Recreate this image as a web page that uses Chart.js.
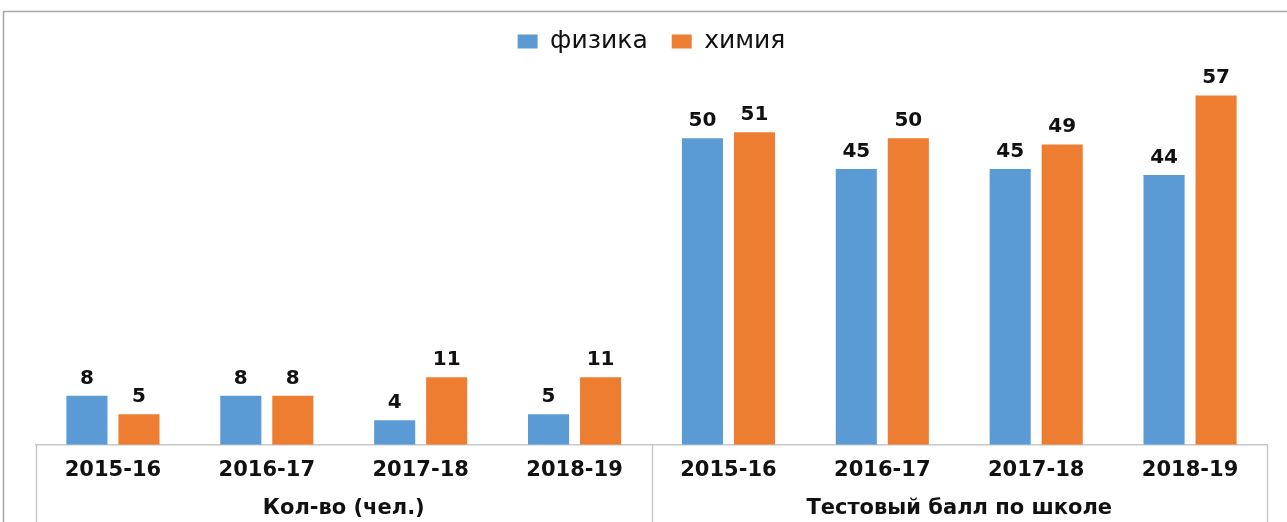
<!DOCTYPE html>
<html lang="ru">
<head>
<meta charset="utf-8">
<title>физика / химия</title>
<script src="https://cdn.jsdelivr.net/npm/chart.js@4/dist/chart.umd.min.js"></script>
<style>
  html, body { margin: 0; padding: 0; background: #fff; }
  #holder { width: 1287px; height: 522px; position: relative; }
</style>
</head>
<body>
<div id="holder"><canvas id="chart"></canvas></div>
<script>
// data
const years = ['2015-16', '2016-17', '2017-18', '2018-19', '2015-16', '2016-17', '2017-18', '2018-19'];
const groups = ['Кол-во (чел.)', 'Тестовый балл по школе'];
const groupSize = 4;
const physics = [8, 8, 4, 5, 50, 45, 45, 44];
const chemistry = [5, 8, 11, 11, 51, 50, 49, 57];

const FONT = "'DejaVu Sans', Verdana, sans-serif";
const lineColor = '#c8c8c8';

// outer frame like the office chart box
const framePlugin = {
  id: 'frame',
  beforeDraw(chart) {
    const ctx = chart.ctx;
    ctx.save();
    ctx.strokeStyle = '#a6a6a6';
    ctx.lineWidth = 1.5;
    ctx.beginPath();
    ctx.moveTo(3.5, chart.height);
    ctx.lineTo(3.5, 11.5);
    ctx.lineTo(chart.width, 11.5);
    ctx.stroke();
    ctx.restore();
  }
};

// push the plot down a bit below the legend
const legendGap = {
  id: 'legendGap',
  beforeInit(chart) {
    const fit = chart.legend.fit;
    chart.legend.fit = function () {
      fit.bind(chart.legend)();
      this.height += 13;
    };
  }
};

// values on top of the bars
const valueLabels = {
  id: 'valueLabels',
  afterDatasetsDraw(chart) {
    const ctx = chart.ctx;
    ctx.save();
    ctx.font = 'bold 20px ' + FONT;
    ctx.fillStyle = '#111';
    ctx.textAlign = 'center';
    ctx.textBaseline = 'alphabetic';
    chart.data.datasets.forEach((ds, i) => {
      chart.getDatasetMeta(i).data.forEach((bar, j) => {
        ctx.fillText(String(ds.data[j]), bar.x, bar.y - 12);
      });
    });
    ctx.restore();
  }
};

// second level of the category axis: group names and dividers
const groupAxis = {
  id: 'groupAxis',
  afterDraw(chart) {
    const x = chart.scales.x;
    const ctx = chart.ctx;
    const top = x.top;
    const bottom = chart.height;
    const step = (x.right - x.left) / years.length;
    ctx.save();
    ctx.strokeStyle = lineColor;
    ctx.lineWidth = 1.5;
    for (let g = 0; g <= groups.length; g++) {
      const px = Math.round(x.left + step * groupSize * g) + 0.5;
      ctx.beginPath();
      ctx.moveTo(px, top);
      ctx.lineTo(px, bottom);
      ctx.stroke();
    }
    ctx.font = 'bold 21px ' + FONT;
    ctx.fillStyle = '#111';
    ctx.textAlign = 'center';
    ctx.textBaseline = 'middle';
    groups.forEach((name, g) => {
      const cx = x.left + step * groupSize * (g + 0.5);
      ctx.fillText(name, cx, top + 64);
    });
    ctx.restore();
  }
};

new Chart(document.getElementById('chart'), {
  type: 'bar',
  data: {
    labels: years,
    datasets: [
      { label: 'физика', data: physics, backgroundColor: '#5b9bd5' },
      { label: 'химия', data: chemistry, backgroundColor: '#ed7d31' }
    ]
  },
  options: {
    responsive: true,
    maintainAspectRatio: false,
    animation: false,
    datasets: { bar: { categoryPercentage: 0.676, barPercentage: 0.79 } },
    layout: { padding: { left: 36, right: 20, top: 5, bottom: 26 } },
    plugins: {
      legend: {
        position: 'top',
        labels: {
          boxWidth: 20,
          boxHeight: 14,
          padding: 24,
          color: '#111',
          font: { family: FONT, size: 25 }
        }
      },
      tooltip: { enabled: false }
    },
    scales: {
      x: {
        grid: { display: false, drawTicks: false },
        border: { display: true, color: lineColor, width: 1.5 },
        ticks: {
          padding: 13,
          color: '#111',
          font: { family: FONT, size: 21, weight: 'bold' }
        }
      },
      y: {
        display: false,
        min: 0,
        max: 60
      }
    }
  },
  plugins: [framePlugin, legendGap, valueLabels, groupAxis]
});
</script>
</body>
</html>
